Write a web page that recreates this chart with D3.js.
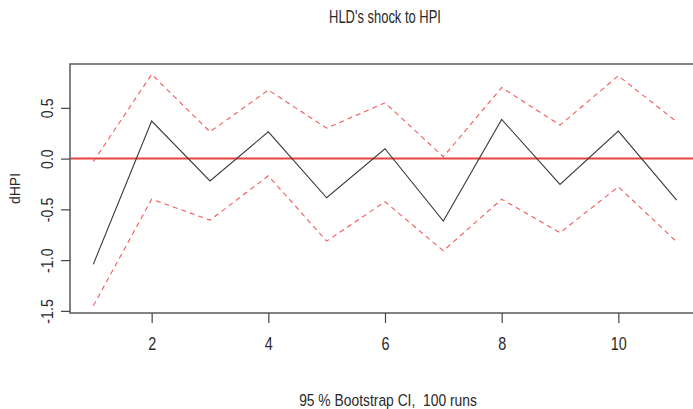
<!DOCTYPE html>
<html>
<head>
<meta charset="utf-8">
<script src="https://cdn.jsdelivr.net/npm/d3@7"></script>
<style>
  html, body { margin: 0; padding: 0; background: #fff; }
  svg { display: block; font-family: "Liberation Sans", Arial, sans-serif; }
  text { fill: #2a2a2a; white-space: pre; }
</style>
</head>
<body>
<svg id="chart" width="693" height="409"></svg>
<script>
const steps = [1, 2, 3, 4, 5, 6, 7, 8, 9, 10, 11];
const irf   = [-1.04, 0.37, -0.22, 0.264, -0.386, 0.097, -0.616, 0.386, -0.254, 0.271, -0.409];
const upper = [-0.03, 0.83, 0.264, 0.675, 0.30, 0.55, 0.018, 0.70, 0.33, 0.816, 0.363];
const lower = [-1.45, -0.40, -0.606, -0.17, -0.813, -0.425, -0.908, -0.40, -0.73, -0.278, -0.82];
const xTicks = [2, 4, 6, 8, 10];
const yTicks = [-1.5, -1.0, -0.5, 0.0, 0.5];
const yTickLabels = ["-1.5", "-1.0", "-0.5", "0.0", "0.5"];
const titleText = "HLD's shock to HPI";
const yLabel = "dHPI";
const xLabel = "95 % Bootstrap CI,  100 runs";

const svg = d3.select("#chart");
const L = 70, R = 700, T = 64, B = 313;

const x = d3.scaleLinear().domain([0.6, 11.4]).range([L, R]);
const y = d3.scaleLinear().domain([-1.521, 0.932]).range([B, T]);

const line = (vals) => d3.line().x((d, i) => x(steps[i])).y(d => y(d))(vals);

// zero line
svg.append("line")
  .attr("x1", L).attr("x2", R)
  .attr("y1", y(0)).attr("y2", y(0))
  .attr("stroke", "#e8443f").attr("stroke-width", 2);

// CI bands
[upper, lower].forEach(arr => {
  svg.append("path").attr("d", line(arr))
    .attr("fill", "none").attr("stroke", "#f25a5a")
    .attr("stroke-width", 1.1).attr("stroke-dasharray", "5,4");
});

// IRF line
svg.append("path").attr("d", line(irf))
  .attr("fill", "none").attr("stroke", "#3a3a3a").attr("stroke-width", 1.1);

// box
svg.append("rect").attr("x", L).attr("y", T).attr("width", R - L).attr("height", B - T)
  .attr("fill", "none").attr("stroke", "#5a5a5a").attr("stroke-width", 1.5);

// x axis
const xa = svg.append("g").attr("transform", `translate(0,${B})`)
  .call(d3.axisBottom(x).tickValues(xTicks).tickSize(10).tickFormat(d => String(d)));
xa.select(".domain").remove();
xa.selectAll(".tick line").attr("stroke", "#444").attr("stroke-width", 1.2);
xa.selectAll(".tick text")
  .attr("y", 37).attr("dy", null)
  .attr("transform", "scale(0.8,1)")
  .attr("font-size", 18).attr("fill", "#2a2a2a")
  .attr("font-family", "Liberation Sans, Arial, sans-serif");

// y axis
const ya = svg.append("g").attr("transform", `translate(${L},0)`)
  .call(d3.axisLeft(y).tickValues(yTicks).tickSize(9).tickFormat((d, i) => yTickLabels[i]));
ya.select(".domain").remove();
ya.selectAll(".tick line").attr("stroke", "#444").attr("stroke-width", 1.2);
ya.selectAll(".tick text")
  .attr("x", 0).attr("y", -17).attr("dy", null)
  .attr("text-anchor", "middle")
  .attr("transform", "rotate(-90) scale(0.84,1)")
  .attr("font-size", 17).attr("fill", "#2a2a2a")
  .attr("font-family", "Liberation Sans, Arial, sans-serif");

// title
svg.append("text")
  .attr("transform", `translate(${(L + R) / 2},23) scale(0.72,1)`)
  .attr("text-anchor", "middle").attr("font-size", 18)
  .text(titleText);

// subtitle (x label)
svg.append("text")
  .attr("transform", `translate(${(L + R) / 2 + 3},406) scale(0.84,1)`)
  .attr("text-anchor", "middle").attr("font-size", 16.5)
  .text(xLabel);

// y label
svg.append("text")
  .attr("transform", `translate(20,${(T + B) / 2}) rotate(-90)`)
  .attr("text-anchor", "middle").attr("font-size", 14)
  .text(yLabel);
</script>
</body>
</html>
